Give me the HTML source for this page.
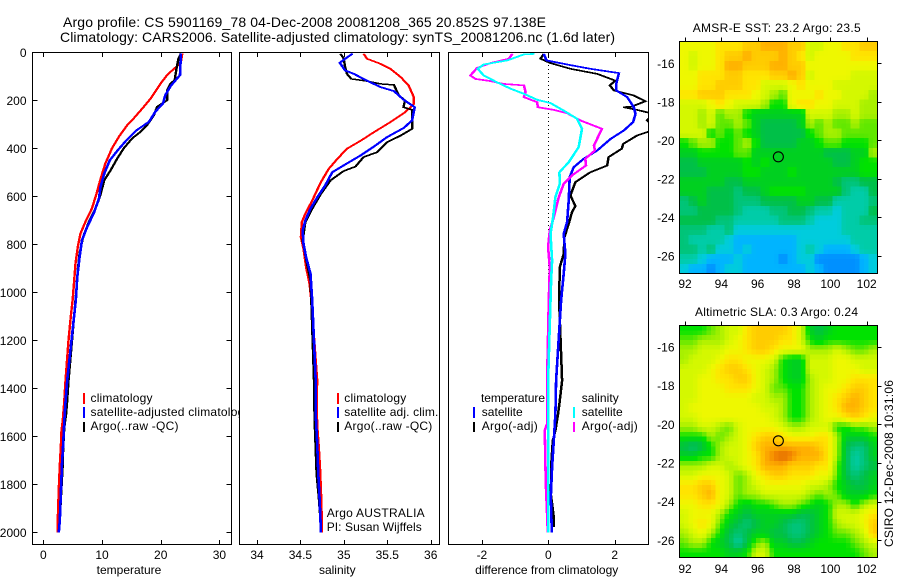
<!DOCTYPE html>
<html>
<head>
<meta charset="utf-8">
<title>Argo profile</title>
<style>
html,body{margin:0;padding:0;background:#fff;}
svg{display:block;}
text{font-family:"Liberation Sans",sans-serif;font-size:12px;fill:#000;}
.ttl{font-size:14px;}
.line{fill:none;stroke-linejoin:miter;shape-rendering:crispEdges;}
.ax{shape-rendering:crispEdges;}
</style>
</head>
<body>
<svg id="chart" width="900" height="580" viewBox="0 0 900 580" xmlns="http://www.w3.org/2000/svg">
<defs>
<clipPath id="clipT"><rect x="33" y="53" width="198" height="492"/></clipPath>
<clipPath id="clipS"><rect x="240" y="53" width="199" height="492"/></clipPath>
<clipPath id="clipD"><rect x="449" y="53" width="199" height="492"/></clipPath>
</defs>
<text class="ttl" x="63" y="27" textLength="483" lengthAdjust="spacing">Argo profile: CS 5901169_78 04-Dec-2008 20081208_365 20.852S 97.138E</text>
<text class="ttl" x="60" y="42" textLength="555" lengthAdjust="spacing">Climatology: CARS2006. Satellite-adjusted climatology: synTS_20081206.nc (1.6d later)</text>

<g id="panelT"></g>
<g>
<rect x="83" y="393" width="2" height="11" fill="#f00"/>
<text x="90.5" y="402" textLength="62" lengthAdjust="spacing">climatology</text>
<rect x="83" y="407" width="2" height="11" fill="#00f"/>
<text x="90.5" y="416" textLength="160" lengthAdjust="spacing">satellite-adjusted climatology</text>
<rect x="83" y="422" width="2" height="10" fill="#000"/>
<text x="90.5" y="430" textLength="88" lengthAdjust="spacing">Argo(..raw -QC)</text>
</g>

<g id="panelS"></g>
<g>
<rect x="337" y="393" width="2" height="11" fill="#f00"/>
<text x="344.3" y="402" textLength="62" lengthAdjust="spacing">climatology</text>
<rect x="337" y="407" width="2" height="11" fill="#00f"/>
<text x="344.3" y="416" textLength="94" lengthAdjust="spacing">satellite adj. clim.</text>
<rect x="337" y="422" width="2" height="10" fill="#000"/>
<text x="344.3" y="430" textLength="88" lengthAdjust="spacing">Argo(..raw -QC)</text>
<text x="326.7" y="517" textLength="98" lengthAdjust="spacing">Argo AUSTRALIA</text>
<text x="326.7" y="531" textLength="95" lengthAdjust="spacing">PI: Susan Wijffels</text>
</g>

<g id="panelD"></g>
<g>
<text x="481" y="402" textLength="64" lengthAdjust="spacing">temperature</text>
<rect x="473" y="407" width="2" height="11" fill="#00f"/>
<text x="481.7" y="416" textLength="41" lengthAdjust="spacing">satellite</text>
<rect x="473" y="422" width="2" height="10" fill="#000"/>
<text x="481.7" y="430" textLength="56" lengthAdjust="spacing">Argo(-adj)</text>
<text x="581.7" y="402" textLength="37" lengthAdjust="spacing">salinity</text>
<rect x="573" y="407" width="2" height="11" fill="#0ff"/>
<text x="581.7" y="416" textLength="41" lengthAdjust="spacing">satellite</text>
<rect x="573" y="422" width="2" height="10" fill="#f0f"/>
<text x="581.7" y="430" textLength="56" lengthAdjust="spacing">Argo(-adj)</text>
</g>

<g id="mapSST"></g>
<g id="mapSLA"></g>
<text x="692.7" y="32" textLength="168" lengthAdjust="spacing">AMSR-E SST: 23.2 Argo: 23.5</text>
<text x="695" y="316" textLength="163" lengthAdjust="spacing">Altimetric SLA: 0.3 Argo: 0.24</text>
<text transform="translate(893,547) rotate(-90)" textLength="167" lengthAdjust="spacing">CSIRO 12-Dec-2008 10:31:06</text>
</svg>

<script>
// ---------- profile data (depth in dbar) ----------
const depthTempClim = [4,46,67,94,129,192,233,275,303,351,400,462,525,587,650,705,754,810,879,976,1032,1100,1200,1300,1367,1457,1531,1582,1645,1721,1818,1943,2000];
const tempClim = [23.6,23.3,22.2,21,19.9,18.2,16.8,15.3,14.2,12.8,11.6,10.5,9.7,9,8.2,7.1,6.25,5.8,5.4,5.1,4.9,4.6,4.2,3.9,3.7,3.47,3.24,3,2.9,2.73,2.56,2.39,2.39];
const depthTempSat = [4,94,140,178,212,247,289,324,365,407,449,504,560,608,671,726,782,851,935,1032,1367,1457,1534,1631,1714,1839,1950,2000];
const tempSat = [23.35,23.2,21.6,20.7,20.3,19,17.9,15.8,14.1,12.6,11.25,10.3,9.66,9.4,8.5,7.4,6.5,6.1,5.7,5.45,3.98,3.7,3.5,3.3,3.1,2.9,2.73,2.56];
const depthTempArgo = [4,25,67,115,129,157,199,226,261,303,330,358,400,442,490,532,601,650,705,768,837,907,976,1032,1367,1450,1506,1561,1645,1728,1839,1950,2000];
const tempArgo = [23.35,22.95,22.6,22.3,21.6,21,21,19.3,18.75,17.6,16.5,15.05,13.6,12.5,11.4,10.3,9.55,8.8,7.7,6.7,6.1,5.8,5.6,5.4,4.2,3.98,3.8,3.5,3.3,3.2,2.95,2.73,2.56];

const depthSalClim = [6,26,47,68,103,137,186,214,249,290,332,367,401,443,485,540,617,672,707,769,818,894,964,1033,1367,1450,1554,1645,1721,1818,1943,2000];
const salClim = [35.224,35.26,35.415,35.53,35.65,35.74,35.8,35.8,35.7,35.53,35.34,35.19,35.03,34.92,34.82,34.73,34.63,34.55,34.51,34.5,34.53,34.56,34.6,34.62,34.687,34.68,34.687,34.706,34.718,34.73,34.74,34.74];
const depthSalSat = [6,26,43,75,89,117,144,161,197,228,283,314,353,392,429,471,499,554,603,651,700,742,797,853,922,1033,1367,1506,1631,1756,1853,1950,2000];
const salSat = [35.09,35.01,34.948,35.01,35.11,35.26,35.416,35.57,35.685,35.81,35.78,35.685,35.49,35.34,35.186,34.99,34.86,34.78,34.69,34.61,34.55,34.52,34.53,34.56,34.61,34.63,34.67,34.67,34.687,34.7,34.714,34.725,34.73];
const depthSalArgo = [6,26,54,89,110,119,131,135,158,179,200,228,239,318,346,374,415,436,475,494,533,589,651,707,783,880,950,1033,1367,1436,1554,1631,1756,1853,1950,2000];
const salArgo = [34.956,34.994,35.005,35.03,35.08,35.26,35.416,35.57,35.6,35.63,35.7,35.68,35.78,35.78,35.65,35.49,35.38,35.22,35.13,34.99,34.84,34.73,34.63,34.55,34.52,34.57,34.61,34.62,34.65,34.652,34.66,34.668,34.68,34.706,34.725,34.73];

const depthDiffTempSat = [6,33,50,68,86,131,158,186,228,256,290,325,360,408,443,478,519,617,707,756,839,922,1033,1367,1506,1617,1728,1853,1950,2000];
const diffTempSat = [-0.15,-0.07,0.55,1.25,2.11,2.03,2.03,2.36,2.56,2.61,2.54,2.26,1.86,1.46,1.05,0.75,0.63,0.6,0.55,0.45,0.5,0.45,0.37,0.22,0.2,0.15,0.1,0.06,0.08,0.09];
const depthDiffTempArgo = [6,26,44,68,89,117,137,158,179,203,225,228,239,256,283,318,346,381,401,436,471,499,540,596,640,665,714,769,839,894,1033,1367,1450,1506,1575,1617,1700,1839,1936,1978];
const diffTempArgo = [-0.15,-0.25,0.05,0.65,1.46,2,1.84,1.96,2.56,2.91,2.51,2.26,2.66,3.16,2.96,3.26,2.66,2.24,2.2,1.8,1.76,1.25,0.8,0.65,0.8,0.7,0.6,0.47,0.45,0.33,0.31,0.4,0.33,0.28,0.2,0.12,0.08,0.06,0.15,0.15];
const depthDiffSalSat = [6,8,33,50,68,96,124,151,172,197,211,242,276,318,394,457,499,547,603,686,756,867,950,1033,1367,1600,1800,2000];
const diffSalSat = [-0.45,-0.75,-1.25,-1.96,-2.14,-1.96,-1.56,-1.15,-0.75,-0.35,0.05,0.45,0.85,1,0.9,0.6,0.32,0.33,0.2,0.13,0.05,0.1,0.07,0.05,-0.02,-0.02,-0.02,-0.02];
const depthDiffSalArgo = [6,26,44,64,96,110,119,131,137,165,186,207,228,239,253,283,318,387,408,443,471,512,547,603,686,742,811,894,1033,1367,1547,1575,1735,1825,1923,2000];
const diffSalArgo = [-1.1,-1.2,-1.76,-2.16,-2.36,-2.21,-1.76,-1.36,-0.75,-0.7,-0.75,-0.35,-0.33,0.15,0.55,0.95,1.6,1.36,1.39,1.1,1.12,0.7,0.45,0.3,0.15,0.03,-0.02,0.03,0,-0.05,-0.05,-0.12,-0.1,-0.08,-0.05,-0.03];

// ---------- tick labels ----------
const depthTicks = [0,200,400,600,800,1000,1200,1400,1600,1800,2000];
const tempTicks = [0,10,20,30];
const salTicks = [34,34.5,35,35.5,36];
const diffTicks = [-2,0,2];
const lonTicks = [92,94,96,98,100,102];
const latTicks = [-16,-18,-20,-22,-24,-26];
const floatLon = 97.138;
const floatLat = -20.852;

// ---------- gridded map values (colour-scale level per 0.5 degree cell, north to south) ----------
const sstGrid = [
[12,12,12,12,13,13,13,14,14,15,15,15,14,14,11,11,12,12,13,13,14,14],
[12,11,12,12,13,14,14,15,14,14,14,15,14,13,11,12,12,12,12,13,13,13],
[12,11,12,12,13,15,15,14,14,14,15,15,14,14,12,12,12,12,12,12,12,12],
[12,12,13,13,13,14,14,13,13,13,14,14,15,14,11,12,12,12,12,11,11,11],
[12,12,13,13,14,14,14,13,13,11,11,11,12,13,12,12,12,11,11,11,11,11],
[13,13,14,14,14,13,13,13,12,11,10,9,12,12,12,13,12,12,11,11,11,10],
[11,11,11,12,13,12,11,11,11,10,8,8,12,13,13,12,12,11,11,11,10,10],
[11,11,10,11,9,10,10,8,7,7,7,7,7,7,11,11,11,10,10,11,10,10],
[11,11,10,11,9,9,10,9,7,6,6,6,6,7,10,9,10,9,9,10,9,9],
[11,11,11,8,9,8,9,8,7,6,6,6,6,6,8,9,10,10,9,9,9,9],
[8,9,10,10,8,8,9,10,8,6,6,6,6,7,7,8,9,9,8,8,8,9],
[7,7,8,8,8,8,9,9,7,7,7,7,7,7,7,7,6,6,6,7,7,10],
[6,6,7,7,7,7,7,8,7,8,7,7,7,7,7,7,7,6,6,7,8,8],
[6,6,6,7,7,7,7,8,8,7,7,7,8,7,7,7,7,7,7,7,8,8],
[7,7,7,7,7,6,6,7,7,7,7,7,7,7,7,7,7,6,5,5,6,6],
[7,7,7,6,6,6,5,6,6,7,8,8,8,8,7,7,7,7,5,4,4,6],
[5,6,7,6,6,6,5,5,5,6,6,6,6,7,7,6,6,4,4,4,4,5],
[5,5,6,6,6,6,5,4,4,4,5,5,6,6,5,4,4,3,4,4,4,6],
[6,6,6,6,5,5,4,4,4,4,4,5,5,5,4,3,3,3,4,4,5,5],
[5,5,5,4,4,5,3,3,3,3,3,3,3,3,3,3,3,3,4,4,4,4],
[5,4,4,4,4,3,2,2,2,2,2,2,2,3,3,3,3,3,3,4,4,4],
[5,5,4,5,3,3,2,3,2,2,2,2,2,3,4,3,2,2,2,3,4,4],
[4,4,3,2,2,2,3,2,2,2,2,1,2,3,3,1,1,1,1,1,2,3],
[3,2,2,1,2,3,3,2,2,2,2,2,2,2,3,2,1,1,1,1,2,3]
];
const slaGrid = [
[8,8,8,9,10,11,11,13,14,14,14,14,13,11,7,6,7,8,8,8,8,8],
[9,9,10,10,10,11,12,13,14,14,14,13,13,11,8,7,8,8,8,8,8,8],
[10,10,11,11,11,12,12,13,14,14,13,12,12,12,10,10,10,11,10,9,9,10],
[10,11,11,11,12,13,13,12,12,12,11,8,7,7,11,11,11,12,12,11,11,11],
[11,11,11,12,13,14,14,13,12,11,10,8,7,7,11,11,11,12,12,12,11,11],
[11,11,12,12,13,13,14,14,12,11,10,8,7,7,10,11,11,12,12,13,13,13],
[11,11,12,12,12,13,13,13,12,11,9,9,8,8,10,11,12,12,13,14,14,13],
[11,11,12,12,12,12,12,12,11,11,10,10,8,8,10,11,12,13,14,15,14,13],
[11,12,12,12,12,12,12,12,12,11,11,10,8,8,10,11,12,13,15,15,14,13],
[11,11,12,12,12,12,12,12,12,12,11,10,8,8,10,11,12,12,13,14,13,12],
[10,10,11,11,10,9,11,12,12,12,12,11,10,10,11,11,11,8,8,9,9,10],
[8,8,8,10,9,10,11,12,13,14,14,13,12,12,12,13,13,10,7,7,7,8],
[6,5,6,8,10,11,11,12,14,15,15,15,15,15,15,14,13,10,6,5,5,7],
[7,7,8,8,10,11,11,12,13,15,16,17,16,15,15,15,13,10,6,4,5,7],
[10,10,10,11,11,10,11,12,13,15,15,15,14,14,14,13,13,9,6,4,5,6],
[11,11,12,12,12,11,9,10,12,13,14,14,13,13,13,12,12,9,6,5,6,7],
[13,13,14,14,12,11,9,10,11,12,12,12,12,12,11,11,10,8,7,6,6,7],
[13,13,14,15,12,11,9,10,10,11,11,11,11,11,10,9,10,9,7,7,7,8],
[12,12,13,13,12,10,8,7,8,8,9,10,10,9,8,7,8,10,10,8,10,11],
[11,12,12,12,10,8,7,6,7,7,7,7,7,6,6,7,8,11,11,11,12,13],
[11,12,13,12,9,7,6,5,6,7,7,6,5,5,6,7,8,10,11,11,12,14],
[10,11,12,10,8,6,5,6,7,7,6,6,5,5,6,7,8,9,9,10,11,14],
[9,10,10,8,7,6,4,6,9,10,7,7,6,6,7,8,8,8,8,9,10,11],
[8,8,8,8,8,7,7,8,11,11,8,8,8,8,8,8,8,8,8,8,9,10]
];

// colour scale, level 0 (blue) to level 17 (dark orange)
const levelColors = [[0,112,240],[0,144,255],[0,180,255],[0,204,221],[0,204,168],[0,196,120],[0,192,72],[0,208,32],[0,226,0],[96,232,0],[168,240,0],[212,248,0],[238,248,0],[255,228,0],[255,204,0],[255,176,0],[240,128,0],[224,112,0]];

// ---------- axis functions ----------
const SVGNS = 'http://www.w3.org/2000/svg';
const yDepth = d => 52.5 + 0.24 * d;
const xTemp = t => 43.3 + 5.87 * t;
const xSal = s => 257 + 86.85 * (s - 34);
const xDiff = v => 548.3 + 33.2 * v;
const xLon = lon => 685 + 18.17 * (lon - 92);
const yLatSST = lat => 63.3 + 19.27 * (-16 - lat);
const yLatSLA = lat => 347 + 19.33 * (-16 - lat);

function mk(parent, tag, attrs, text) {
  const el = document.createElementNS(SVGNS, tag);
  for (const k in attrs) el.setAttribute(k, attrs[k]);
  if (text !== undefined) el.textContent = text;
  parent.appendChild(el);
  return el;
}

function levelColor(v) {
  const i = Math.max(0, Math.min(levelColors.length - 2, Math.floor(v)));
  const f = v - i;
  const a = levelColors[i], b = levelColors[i + 1];
  return 'rgb(' + [0, 1, 2].map(k => Math.round(a[k] + (b[k] - a[k]) * f)).join(',') + ')';
}

function sampleGrid(grid, u, v) {
  const nRow = grid.length, nCol = grid[0].length;
  const cu = Math.max(0, Math.min(nCol - 1, u)), cv = Math.max(0, Math.min(nRow - 1, v));
  const c0 = Math.floor(cu), r0 = Math.floor(cv);
  const c1 = Math.min(nCol - 1, c0 + 1), r1 = Math.min(nRow - 1, r0 + 1);
  const fu = cu - c0, fv = cv - r0;
  return (grid[r0][c0] * (1 - fu) + grid[r0][c1] * fu) * (1 - fv) + (grid[r1][c0] * (1 - fu) + grid[r1][c1] * fu) * fv;
}

function drawProfile(parent, name, clip, depths, values, xFn, color, width) {
  const pts = depths.map((d, i) => xFn(values[i]).toFixed(1) + ',' + yDepth(d).toFixed(1)).join(' ');
  const line = mk(parent, 'polyline', {points: pts, class: 'line', stroke: color, 'stroke-width': width, 'clip-path': 'url(#' + clip + ')'});
  
  
  const brush = mk(parent, 'polyline', {points: depths.map((d, i) => (xFn(values[i]) + 1).toFixed(1) + ',' + yDepth(d).toFixed(1)).join(' '), class: 'line', stroke: color, 'stroke-width': width, 'clip-path': 'url(#' + clip + ')'});
  
  
}

function drawPanel(parent, left, right, ticks, xFn, title, titleX, withDepth) {
  const top = 52, bottom = 545;
  const bg = mk(parent, 'rect', {x: left, y: top, width: right - left, height: bottom - top, fill: '#fff'});
  
  
  ticks.forEach(t => {
    const x = Math.round(xFn(t)) + 0.5;
    const tickTop = mk(parent, 'line', {x1: x, x2: x, y1: top, y2: top + 5, stroke: '#000', class: 'ax'});
    
    
    const tickBottom = mk(parent, 'line', {x1: x, x2: x, y1: bottom, y2: bottom - 5, stroke: '#000', class: 'ax'});
    
    
    const label = mk(parent, 'text', {x: xFn(t), y: 559, 'text-anchor': 'middle'}, String(t));
    
    
  });
  if (withDepth) {
    depthTicks.forEach(d => {
      const y = Math.round(yDepth(d)) - 0.5;
      const tickLeft = mk(parent, 'line', {x1: left, x2: left + 5, y1: y, y2: y, stroke: '#000', class: 'ax'});
      
      
      const tickRight = mk(parent, 'line', {x1: right, x2: right - 5, y1: y, y2: y, stroke: '#000', class: 'ax'});
      
      
      const label = mk(parent, 'text', {x: 26.5, y: yDepth(d) + 4.5, 'text-anchor': 'end'}, String(d));
      
      
    });
  }
  const axisTitle = mk(parent, 'text', {x: titleX, y: 574, 'text-anchor': 'middle'}, title);
  
  
}

function drawFrame(parent, left, right) {
  const frame = mk(parent, 'rect', {x: left, y: 52.5, width: right - left, height: 492, fill: 'none', stroke: '#000', class: 'ax'});
  
  
}

function drawMap(parent, grid, top, bottom, yFn, labelY, sharpness) {
  const left = 679.5, right = 877.5;
  const nRow = grid.length, nCol = grid[0].length;
  const sub = 2;
  const cw = (right - left) / (nCol * sub), ch = (bottom - top) / (nRow * sub);
  for (let r = 0; r < nRow * sub; r++) {
    for (let c = 0; c < nCol * sub; c++) {
      const smooth = sampleGrid(grid, (c + 0.5) / sub - 0.5, (r + 0.5) / sub - 0.5);
      const exact = grid[Math.floor(r / sub)][Math.floor(c / sub)];
      const level = smooth * (1 - sharpness) + exact * sharpness;
      const cell = mk(parent, 'rect', {x: (left + c * cw).toFixed(2), y: (top + r * ch).toFixed(2), width: (cw + 0.4).toFixed(2), height: (ch + 0.4).toFixed(2), fill: levelColor(level), class: 'ax'});
      
      
    }
  }
  const frame = mk(parent, 'rect', {x: left, y: top, width: right - left, height: bottom - top, fill: 'none', stroke: '#000', class: 'ax'});
  
  
  lonTicks.forEach(lon => {
    const x = Math.round(xLon(lon)) + 0.5;
    const tick = mk(parent, 'line', {x1: x, x2: x, y1: top, y2: top - 4, stroke: '#000', class: 'ax'});
    
    
    const label = mk(parent, 'text', {x: xLon(lon), y: labelY, 'text-anchor': 'middle'}, String(lon));
    
    
  });
  latTicks.forEach(lat => {
    const y = Math.round(yFn(lat)) + 0.5;
    const tick = mk(parent, 'line', {x1: right, x2: right + 4, y1: y, y2: y, stroke: '#000', class: 'ax'});
    
    
    const label = mk(parent, 'text', {x: 674.5, y: yFn(lat) + 4.5, 'text-anchor': 'end'}, String(lat));
    
    
  });
  const marker = mk(parent, 'circle', {cx: xLon(floatLon), cy: yFn(floatLat), r: 5, fill: 'none', stroke: '#000', 'stroke-width': 1.1});
  
  
}

// ---------- draw ----------
const pT = document.getElementById('panelT');
drawPanel(pT, 32.5, 231.5, tempTicks, xTemp, 'temperature', 129, true);
drawProfile(pT, 'temperature-climatology-line', 'clipT', depthTempClim, tempClim, xTemp, '#f00', 1.4);
drawProfile(pT, 'temperature-argo-line', 'clipT', depthTempArgo, tempArgo, xTemp, '#000', 1.4);
drawProfile(pT, 'temperature-satellite-line', 'clipT', depthTempSat, tempSat, xTemp, '#00f', 1.6);
drawFrame(pT, 32.5, 231.5);

const pS = document.getElementById('panelS');
drawPanel(pS, 239.5, 439.5, salTicks, xSal, 'salinity', 337.3, false);
drawProfile(pS, 'salinity-climatology-line', 'clipS', depthSalClim, salClim, xSal, '#f00', 1.4);
drawProfile(pS, 'salinity-argo-line', 'clipS', depthSalArgo, salArgo, xSal, '#000', 1.4);
drawProfile(pS, 'salinity-satellite-line', 'clipS', depthSalSat, salSat, xSal, '#00f', 1.6);
drawFrame(pS, 239.5, 439.5);

const pD = document.getElementById('panelD');
drawPanel(pD, 448.5, 648.5, diffTicks, xDiff, 'difference from climatology', 546.7, false);
const zero = mk(pD, 'line', {x1: 548.5, x2: 548.5, y1: 53, y2: 532, stroke: '#000', 'stroke-dasharray': '1 3', class: 'ax'});


drawProfile(pD, 'difference-temp-argo-line', 'clipD', depthDiffTempArgo, diffTempArgo, xDiff, '#000', 1.5);
drawProfile(pD, 'difference-temp-satellite-line', 'clipD', depthDiffTempSat, diffTempSat, xDiff, '#00f', 1.6);
drawProfile(pD, 'difference-sal-argo-line', 'clipD', depthDiffSalArgo, diffSalArgo, xDiff, '#f0f', 1.6);
drawProfile(pD, 'difference-sal-satellite-line', 'clipD', depthDiffSalSat, diffSalSat, xDiff, '#0ff', 1.6);
drawFrame(pD, 448.5, 648.5);

drawMap(document.getElementById('mapSST'), sstGrid, 41.5, 273.5, yLatSST, 288, 0.5);
drawMap(document.getElementById('mapSLA'), slaGrid, 325.5, 557.5, yLatSLA, 573, 0);
</script>
</body>
</html>
